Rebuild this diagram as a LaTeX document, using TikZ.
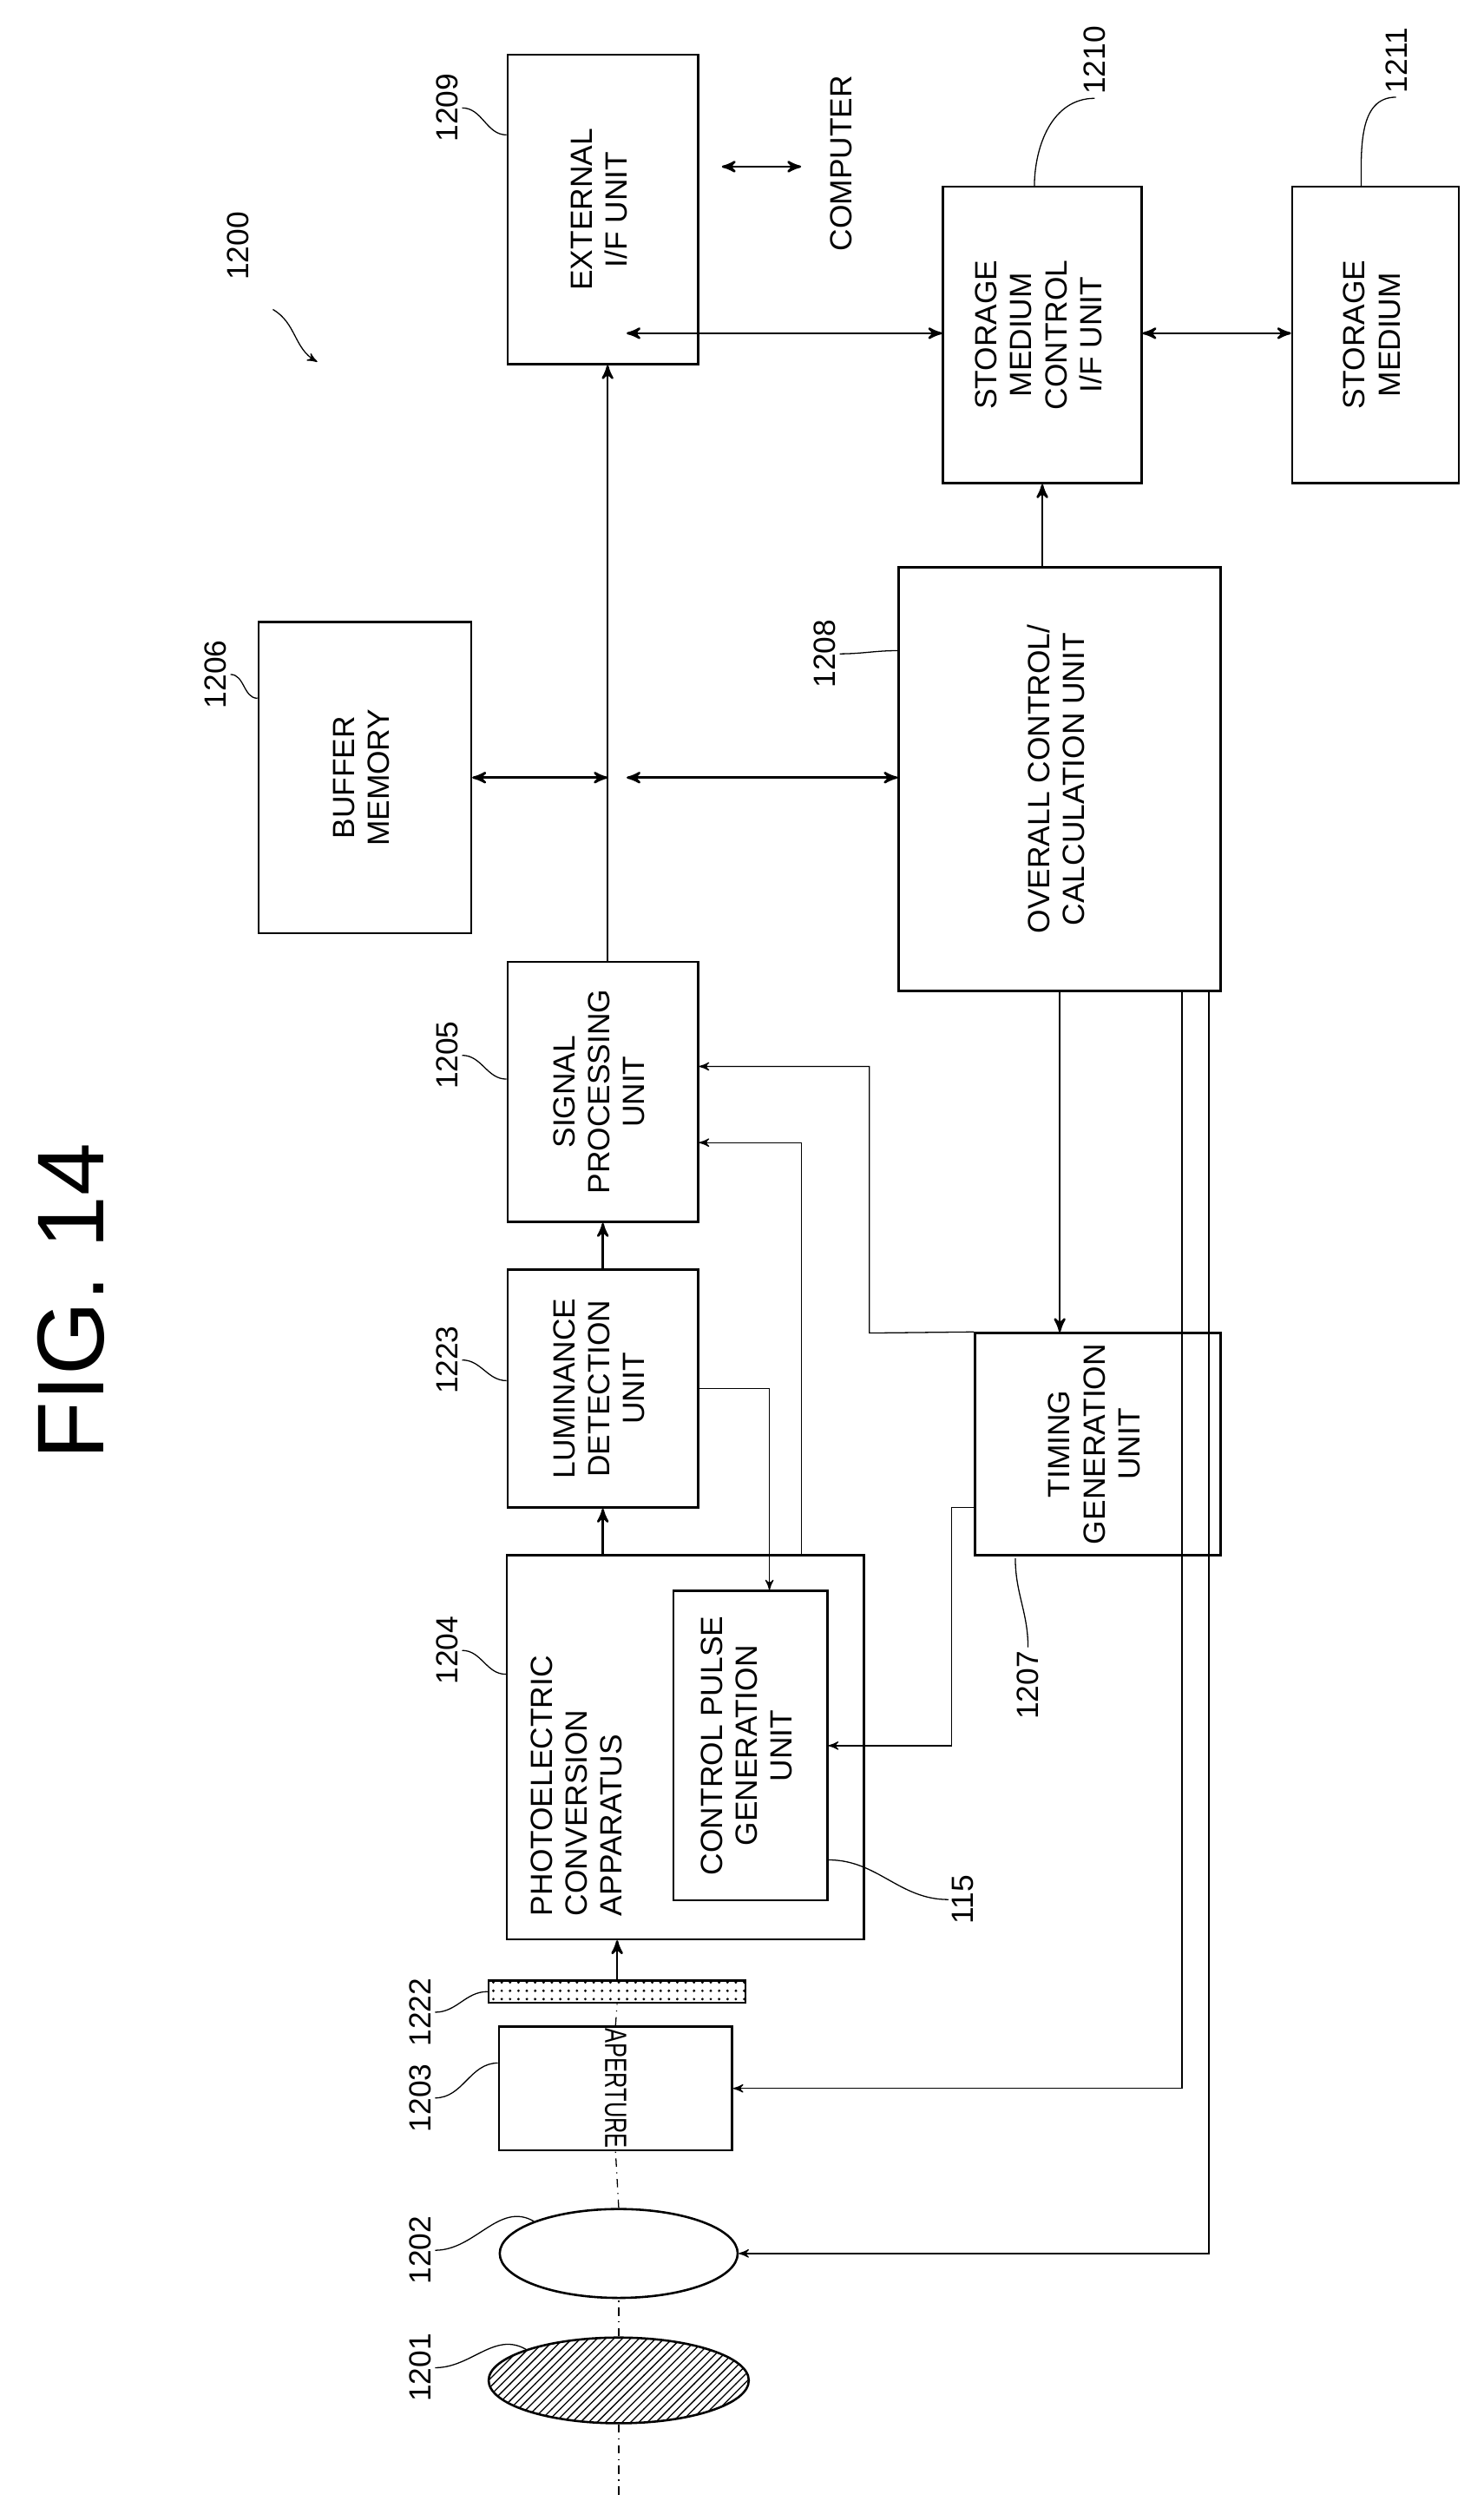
\documentclass[tikz,border=0pt]{standalone}
\usepackage{fontspec}
\setmainfont{Liberation Sans}
\usetikzlibrary{arrows,patterns,calc,shapes.geometric}
\newcommand{\up}[1]{\rotatebox{90}{\begin{tabular}{@{}c@{}}#1\end{tabular}}}
\newcommand{\dn}[1]{\rotatebox{-90}{\scalebox{0.72}[1]{#1}}}
\begin{document}
\begin{tikzpicture}[x=0.02cm,y=-0.02cm,>=stealth',thick,font=\fontsize{11}{12.5}\selectfont]
    \tikzstyle{block}=[draw,thick,inner sep=0pt,align=center]
    \tikzstyle{ref}=[inner sep=1pt,rotate=90]
    \tikzstyle{lead}=[thin]
    \useasboundingbox (0,0) rectangle (935,1576);

    \node [rotate=90,font=\fontsize{34}{34}\selectfont] (fig) at (45,820) {FIG. 14};

    \node [block,minimum width=120*0.02cm,minimum height=195*0.02cm] (extif) at (380,132) {\up{EXTERNAL\\I/F UNIT}};
    \node [block,minimum width=125*0.02cm,minimum height=187*0.02cm] (smctl) at (657,211) {\up{STORAGE\\MEDIUM\\CONTROL\\I/F UNIT}};
    \node [block,minimum width=105*0.02cm,minimum height=187*0.02cm] (smed) at (867,211) {\up{STORAGE\\MEDIUM}};
    \node [block,minimum width=134*0.02cm,minimum height=196*0.02cm] (buffer) at (230,490) {\up{BUFFER\\MEMORY}};
    \node [block,minimum width=203*0.02cm,minimum height=267*0.02cm] (overall) at (668,491) {\up{OVERALL CONTROL/\\CALCULATION UNIT}};
    \node [block,minimum width=120*0.02cm,minimum height=164*0.02cm] (sigproc) at (380,688) {\up{SIGNAL\\PROCESSING\\UNIT}};
    \node [block,minimum width=120*0.02cm,minimum height=150*0.02cm] (lumin) at (380,875) {\up{LUMINANCE\\DETECTION\\UNIT}};
    \node [block,minimum width=155*0.02cm,minimum height=140*0.02cm] (timing) at (692,910) {\up{TIMING\\GENERATION\\UNIT}};
    \node [block,minimum width=225*0.02cm,minimum height=242*0.02cm] (photo) at (432,1101) {};
    \node [anchor=south west,inner sep=0pt] (phototxt) at (332,1208) {\up{\begin{tabular}{@{}l@{}}PHOTOELECTRIC\\CONVERSION\\APPARATUS\end{tabular}}};
    \node [block,minimum width=97*0.02cm,minimum height=195*0.02cm] (pulse) at (473,1100) {\up{CONTROL PULSE\\GENERATION\\UNIT}};
    \node [draw,thick,pattern=dots,minimum width=162*0.02cm,minimum height=14*0.02cm,inner sep=0pt] (filter) at (389,1255) {};
    \node [block,fill=white,minimum width=147*0.02cm,minimum height=78*0.02cm] (aperture) at (388,1316) {\dn{APERTURE}};
    \node [draw,thick,ellipse,fill=white,minimum width=150*0.02cm,minimum height=56*0.02cm,inner sep=0pt] (lens) at (390,1420) {};
    \node [draw,thick,ellipse,pattern=north east lines,minimum width=164*0.02cm,minimum height=54*0.02cm,inner sep=0pt] (iris) at (390,1500) {};
    \node [rotate=90] (computer) at (530,103) {COMPUTER};

    % optical axis
    \draw [thin,dash dot] (iris.south |- 0,1572) -- (iris.south);
    \draw [thin,dash dot] (iris.north) -- (lens.south);
    \draw [thin,dash dot] (lens.north) -- (aperture.south);
    \draw [thin,dash dot] (aperture.north) -- (filter.south);
    \draw [->] (filter.north) -- (photo.south -| filter.north);

    % signal path
    \draw [->] (photo.north -| lumin.south) -- (lumin.south);
    \draw [->] (lumin.north) -- (sigproc.south);
    \coordinate (bus) at (383,210);
    \draw [->] (sigproc.north -| bus) -- (extif.south -| bus);
    \draw [<->] (buffer.east) -- (buffer.east -| bus);
    \draw [<->] ($(buffer.east -| bus)+(12,0)$) -- (overall.west |- buffer.east);
    \draw [<->] ($(bus)+(12,0)$) -- (smctl.west |- bus);
    \draw [<->] (smctl.east |- bus) -- (smed.west |- bus);
    \draw [<->] (455,105) -- (505,105);
    \draw [->] (overall.north -| smctl.south) -- (smctl.south);
    \draw [->] (overall.south) -- (timing.north -| overall.south);

    % control lines
    \draw [thin,->] (timing.north west) -- (548,840) -- (548,672) -- (sigproc.east |- 0,672);
    \draw [thin,->] (505,980) -- (505,720) -- (sigproc.east |- 0,720);
    \draw [thin,->] (lumin.east) -- (485,875) -- (pulse.north -| 485,0);
    \draw [thin,->] (timing.west |- 0,950) -- (600,950) -- (600,1100) -- (pulse.east);
    \draw [thin,->] (overall.south -| 745,0) -- (745,1316) -- (aperture.east);
    \draw [thin,->] (overall.south -| 762,0) -- (762,1420) -- (lens.east);

    % reference numerals
    \node [ref] (r1200) at (150,155) {1200};
    \draw [lead,->] (172,195) to[out=-30,in=150] (200,228);
    \node [ref] (r1209) at (282,68) {1209};
    \draw [lead] (r1209.south) to[out=0,in=180] (extif.west |- 0,85);
    \node [ref] (r1210) at (690,38) {1210};
    \draw [lead] (r1210.west) to[out=180,in=90] (652,118);
    \node [ref] (r1211) at (880,38) {1211};
    \draw [lead] (r1211.west) to[out=180,in=90] (858,118);
    \node [ref] (r1206) at (136,425) {1206};
    \draw [lead] (r1206.south) to[out=0,in=180] (buffer.west |- 0,440);
    \node [ref] (r1208) at (520,412) {1208};
    \draw [lead] (r1208.south) to[out=0,in=180] (overall.west |- 0,410);
    \node [ref] (r1205) at (282,665) {1205};
    \draw [lead] (r1205.south) to[out=0,in=180] (sigproc.west |- 0,680);
    \node [ref] (r1223) at (282,857) {1223};
    \draw [lead] (r1223.south) to[out=0,in=180] (lumin.west |- 0,870);
    \node [ref] (r1204) at (282,1040) {1204};
    \draw [lead] (r1204.south) to[out=0,in=180] (photo.west |- 0,1055);
    \node [ref] (r1207) at (648,1062) {1207};
    \draw [lead] (r1207.east) to[out=90,in=-90] (640,982);
    \node [ref] (r115) at (607,1197) {115};
    \draw [lead] (r115.north) to[out=180,in=0] (pulse.east |- 0,1172);
    \node [ref] (r1222) at (265,1268) {1222};
    \draw [lead] (r1222.south) to[out=0,in=180] (filter.west);
    \node [ref] (r1203) at (265,1322) {1203};
    \draw [lead] (r1203.south) to[out=0,in=180] (aperture.west |- 0,1300);
    \node [ref] (r1202) at (265,1418) {1202};
    \draw [lead] (r1202.south) to[out=0,in=150] (lens.north west);
    \node [ref] (r1201) at (265,1492) {1201};
    \draw [lead] (r1201.south) to[out=0,in=150] (iris.north west);
\end{tikzpicture}
\end{document}
